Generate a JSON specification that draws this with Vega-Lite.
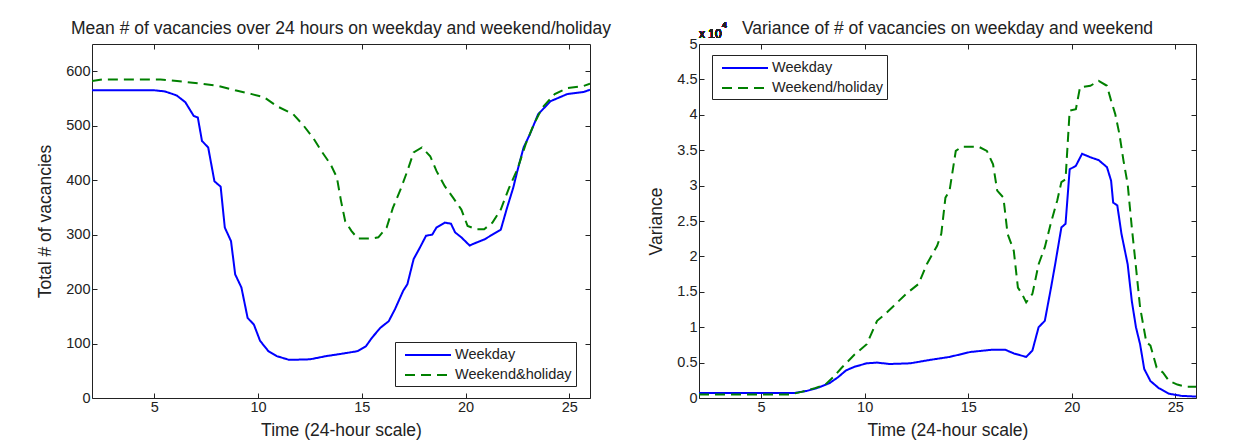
{
  "$schema": "https://vega.github.io/schema/vega-lite/v6.json",
  "background": "white",
  "padding": {"left": 36, "top": 19, "right": 5, "bottom": 2},
  "spacing": 35,
  "resolve": {"scale": {"color": "independent", "strokeDash": "independent"}, "legend": {"color": "independent", "strokeDash": "independent"}},
  "config": {
    "font": "Liberation Sans",
    "view": {"stroke": "#222", "strokeWidth": 1},
    "axis": {"grid": false, "domain": false, "tickColor": "#222", "tickSize": -5, "labelFontSize": 14.5, "labelColor": "#222", "titleFontSize": 17.5, "titleFontWeight": "normal", "titleColor": "#222", "labelPadding": 7, "titlePadding": 11},
    "axisX": {"titlePadding": 8},
    "title": {"fontSize": 17.5, "fontWeight": "normal", "color": "#222", "offset": 6, "frame": "group"},
    "legend": {"orient": "none", "title": null, "symbolType": "M-2.875,0L2.875,0", "symbolSize": 256, "symbolStrokeWidth": 2, "symbolOffset": 20, "labelFontSize": 14.5, "labelColor": "#222", "labelOffset": 18, "padding": 4, "strokeColor": "#222", "fillColor": "white", "rowPadding": 4}
  },
  "datasets": {
    "mean": [
      {"t": 2, "v": 565, "series": "Weekday"}, {"t": 3, "v": 565, "series": "Weekday"}, {"t": 4, "v": 565, "series": "Weekday"}, {"t": 5, "v": 565, "series": "Weekday"}, {"t": 5.5, "v": 563, "series": "Weekday"}, {"t": 5.9, "v": 558, "series": "Weekday"}, {"t": 6.1, "v": 555, "series": "Weekday"}, {"t": 6.5, "v": 543, "series": "Weekday"}, {"t": 6.9, "v": 518, "series": "Weekday"}, {"t": 7.1, "v": 515, "series": "Weekday"}, {"t": 7.3, "v": 472, "series": "Weekday"}, {"t": 7.6, "v": 460, "series": "Weekday"}, {"t": 7.9, "v": 398, "series": "Weekday"}, {"t": 8.2, "v": 388, "series": "Weekday"}, {"t": 8.4, "v": 313, "series": "Weekday"}, {"t": 8.7, "v": 288, "series": "Weekday"}, {"t": 8.9, "v": 227, "series": "Weekday"}, {"t": 9.2, "v": 203, "series": "Weekday"}, {"t": 9.5, "v": 147, "series": "Weekday"}, {"t": 9.8, "v": 135, "series": "Weekday"}, {"t": 10.1, "v": 105, "series": "Weekday"}, {"t": 10.5, "v": 86, "series": "Weekday"}, {"t": 10.9, "v": 77, "series": "Weekday"}, {"t": 11.5, "v": 70, "series": "Weekday"}, {"t": 12.5, "v": 71, "series": "Weekday"}, {"t": 13.3, "v": 77, "series": "Weekday"}, {"t": 14.0, "v": 81, "series": "Weekday"}, {"t": 14.8, "v": 86, "series": "Weekday"}, {"t": 15.2, "v": 95, "series": "Weekday"}, {"t": 15.5, "v": 111, "series": "Weekday"}, {"t": 15.9, "v": 129, "series": "Weekday"}, {"t": 16.3, "v": 141, "series": "Weekday"}, {"t": 16.6, "v": 163, "series": "Weekday"}, {"t": 17.0, "v": 197, "series": "Weekday"}, {"t": 17.2, "v": 209, "series": "Weekday"}, {"t": 17.5, "v": 255, "series": "Weekday"}, {"t": 17.8, "v": 276, "series": "Weekday"}, {"t": 18.1, "v": 298, "series": "Weekday"}, {"t": 18.4, "v": 300, "series": "Weekday"}, {"t": 18.6, "v": 313, "series": "Weekday"}, {"t": 19.0, "v": 322, "series": "Weekday"}, {"t": 19.3, "v": 320, "series": "Weekday"}, {"t": 19.5, "v": 304, "series": "Weekday"}, {"t": 19.8, "v": 295, "series": "Weekday"}, {"t": 20.2, "v": 280, "series": "Weekday"}, {"t": 20.5, "v": 285, "series": "Weekday"}, {"t": 20.9, "v": 291, "series": "Weekday"}, {"t": 21.3, "v": 300, "series": "Weekday"}, {"t": 21.7, "v": 309, "series": "Weekday"}, {"t": 22.0, "v": 349, "series": "Weekday"}, {"t": 22.3, "v": 386, "series": "Weekday"}, {"t": 22.5, "v": 417, "series": "Weekday"}, {"t": 22.8, "v": 460, "series": "Weekday"}, {"t": 23.1, "v": 484, "series": "Weekday"}, {"t": 23.5, "v": 521, "series": "Weekday"}, {"t": 24.1, "v": 545, "series": "Weekday"}, {"t": 24.9, "v": 558, "series": "Weekday"}, {"t": 25.7, "v": 562, "series": "Weekday"}, {"t": 26, "v": 566, "series": "Weekday"},
      {"t": 2, "v": 582, "series": "Weekend&holiday"}, {"t": 2.5, "v": 585, "series": "Weekend&holiday"}, {"t": 3, "v": 585, "series": "Weekend&holiday"}, {"t": 4, "v": 585, "series": "Weekend&holiday"}, {"t": 5.3, "v": 585, "series": "Weekend&holiday"}, {"t": 6.1, "v": 582, "series": "Weekend&holiday"}, {"t": 7.3, "v": 577, "series": "Weekend&holiday"}, {"t": 8.1, "v": 573, "series": "Weekend&holiday"}, {"t": 8.9, "v": 565, "series": "Weekend&holiday"}, {"t": 9.7, "v": 558, "series": "Weekend&holiday"}, {"t": 10.3, "v": 552, "series": "Weekend&holiday"}, {"t": 10.9, "v": 536, "series": "Weekend&holiday"}, {"t": 11.7, "v": 521, "series": "Weekend&holiday"}, {"t": 12.2, "v": 500, "series": "Weekend&holiday"}, {"t": 12.7, "v": 475, "series": "Weekend&holiday"}, {"t": 13.1, "v": 451, "series": "Weekend&holiday"}, {"t": 13.5, "v": 429, "series": "Weekend&holiday"}, {"t": 13.8, "v": 405, "series": "Weekend&holiday"}, {"t": 14.0, "v": 362, "series": "Weekend&holiday"}, {"t": 14.2, "v": 325, "series": "Weekend&holiday"}, {"t": 14.5, "v": 307, "series": "Weekend&holiday"}, {"t": 14.8, "v": 293, "series": "Weekend&holiday"}, {"t": 15.5, "v": 293, "series": "Weekend&holiday"}, {"t": 15.8, "v": 295, "series": "Weekend&holiday"}, {"t": 16.2, "v": 313, "series": "Weekend&holiday"}, {"t": 16.5, "v": 349, "series": "Weekend&holiday"}, {"t": 16.9, "v": 386, "series": "Weekend&holiday"}, {"t": 17.2, "v": 417, "series": "Weekend&holiday"}, {"t": 17.5, "v": 451, "series": "Weekend&holiday"}, {"t": 17.9, "v": 460, "series": "Weekend&holiday"}, {"t": 18.3, "v": 444, "series": "Weekend&holiday"}, {"t": 18.6, "v": 417, "series": "Weekend&holiday"}, {"t": 19.0, "v": 389, "series": "Weekend&holiday"}, {"t": 19.4, "v": 368, "series": "Weekend&holiday"}, {"t": 19.8, "v": 346, "series": "Weekend&holiday"}, {"t": 20.1, "v": 316, "series": "Weekend&holiday"}, {"t": 20.5, "v": 310, "series": "Weekend&holiday"}, {"t": 20.9, "v": 310, "series": "Weekend&holiday"}, {"t": 21.3, "v": 322, "series": "Weekend&holiday"}, {"t": 21.7, "v": 346, "series": "Weekend&holiday"}, {"t": 22.1, "v": 386, "series": "Weekend&holiday"}, {"t": 22.5, "v": 420, "series": "Weekend&holiday"}, {"t": 22.9, "v": 466, "series": "Weekend&holiday"}, {"t": 23.3, "v": 503, "series": "Weekend&holiday"}, {"t": 23.7, "v": 533, "series": "Weekend&holiday"}, {"t": 24.3, "v": 558, "series": "Weekend&holiday"}, {"t": 24.9, "v": 569, "series": "Weekend&holiday"}, {"t": 25.7, "v": 573, "series": "Weekend&holiday"}, {"t": 26, "v": 577, "series": "Weekend&holiday"}
    ],
    "variance": [
      {"t": 2, "v": 700, "series": "Weekday"}, {"t": 4, "v": 700, "series": "Weekday"}, {"t": 6.6, "v": 700, "series": "Weekday"}, {"t": 7.2, "v": 1000, "series": "Weekday"}, {"t": 7.7, "v": 1400, "series": "Weekday"}, {"t": 8.3, "v": 2100, "series": "Weekday"}, {"t": 8.7, "v": 2900, "series": "Weekday"}, {"t": 9.1, "v": 3900, "series": "Weekday"}, {"t": 9.5, "v": 4400, "series": "Weekday"}, {"t": 10.1, "v": 4900, "series": "Weekday"}, {"t": 10.6, "v": 5000, "series": "Weekday"}, {"t": 11.2, "v": 4800, "series": "Weekday"}, {"t": 12.2, "v": 4900, "series": "Weekday"}, {"t": 13.2, "v": 5400, "series": "Weekday"}, {"t": 14.1, "v": 5800, "series": "Weekday"}, {"t": 15.1, "v": 6500, "series": "Weekday"}, {"t": 16.1, "v": 6800, "series": "Weekday"}, {"t": 16.8, "v": 6800, "series": "Weekday"}, {"t": 17.2, "v": 6300, "series": "Weekday"}, {"t": 17.8, "v": 5800, "series": "Weekday"}, {"t": 18.1, "v": 6700, "series": "Weekday"}, {"t": 18.4, "v": 10000, "series": "Weekday"}, {"t": 18.7, "v": 10900, "series": "Weekday"}, {"t": 19.0, "v": 15600, "series": "Weekday"}, {"t": 19.2, "v": 18900, "series": "Weekday"}, {"t": 19.5, "v": 24100, "series": "Weekday"}, {"t": 19.7, "v": 24600, "series": "Weekday"}, {"t": 19.9, "v": 32300, "series": "Weekday"}, {"t": 20.2, "v": 32800, "series": "Weekday"}, {"t": 20.5, "v": 34500, "series": "Weekday"}, {"t": 20.9, "v": 34000, "series": "Weekday"}, {"t": 21.3, "v": 33600, "series": "Weekday"}, {"t": 21.7, "v": 32600, "series": "Weekday"}, {"t": 21.9, "v": 30700, "series": "Weekday"}, {"t": 22.0, "v": 27600, "series": "Weekday"}, {"t": 22.2, "v": 27200, "series": "Weekday"}, {"t": 22.4, "v": 23200, "series": "Weekday"}, {"t": 22.7, "v": 18900, "series": "Weekday"}, {"t": 22.9, "v": 13700, "series": "Weekday"}, {"t": 23.1, "v": 10000, "series": "Weekday"}, {"t": 23.3, "v": 7600, "series": "Weekday"}, {"t": 23.5, "v": 4100, "series": "Weekday"}, {"t": 23.8, "v": 2400, "series": "Weekday"}, {"t": 24.2, "v": 1400, "series": "Weekday"}, {"t": 24.7, "v": 600, "series": "Weekday"}, {"t": 25.3, "v": 300, "series": "Weekday"}, {"t": 26, "v": 200, "series": "Weekday"},
      {"t": 2, "v": 500, "series": "Weekend/holiday"}, {"t": 4, "v": 500, "series": "Weekend/holiday"}, {"t": 6.4, "v": 500, "series": "Weekend/holiday"}, {"t": 7.0, "v": 900, "series": "Weekend/holiday"}, {"t": 7.6, "v": 1400, "series": "Weekend/holiday"}, {"t": 8.1, "v": 1900, "series": "Weekend/holiday"}, {"t": 8.5, "v": 3000, "series": "Weekend/holiday"}, {"t": 8.9, "v": 4300, "series": "Weekend/holiday"}, {"t": 9.5, "v": 6100, "series": "Weekend/holiday"}, {"t": 10.1, "v": 7600, "series": "Weekend/holiday"}, {"t": 10.6, "v": 10900, "series": "Weekend/holiday"}, {"t": 11.0, "v": 11900, "series": "Weekend/holiday"}, {"t": 11.4, "v": 13000, "series": "Weekend/holiday"}, {"t": 12.0, "v": 14700, "series": "Weekend/holiday"}, {"t": 12.6, "v": 16100, "series": "Weekend/holiday"}, {"t": 13.0, "v": 18900, "series": "Weekend/holiday"}, {"t": 13.5, "v": 21500, "series": "Weekend/holiday"}, {"t": 13.7, "v": 23200, "series": "Weekend/holiday"}, {"t": 13.9, "v": 28300, "series": "Weekend/holiday"}, {"t": 14.1, "v": 29300, "series": "Weekend/holiday"}, {"t": 14.4, "v": 34900, "series": "Weekend/holiday"}, {"t": 14.7, "v": 35500, "series": "Weekend/holiday"}, {"t": 15.5, "v": 35500, "series": "Weekend/holiday"}, {"t": 15.9, "v": 34900, "series": "Weekend/holiday"}, {"t": 16.2, "v": 33000, "series": "Weekend/holiday"}, {"t": 16.4, "v": 29300, "series": "Weekend/holiday"}, {"t": 16.7, "v": 28300, "series": "Weekend/holiday"}, {"t": 16.9, "v": 23200, "series": "Weekend/holiday"}, {"t": 17.2, "v": 20800, "series": "Weekend/holiday"}, {"t": 17.4, "v": 15600, "series": "Weekend/holiday"}, {"t": 17.6, "v": 14700, "series": "Weekend/holiday"}, {"t": 17.8, "v": 13500, "series": "Weekend/holiday"}, {"t": 18.1, "v": 14700, "series": "Weekend/holiday"}, {"t": 18.4, "v": 18900, "series": "Weekend/holiday"}, {"t": 18.7, "v": 21300, "series": "Weekend/holiday"}, {"t": 19.0, "v": 24800, "series": "Weekend/holiday"}, {"t": 19.3, "v": 27900, "series": "Weekend/holiday"}, {"t": 19.5, "v": 30500, "series": "Weekend/holiday"}, {"t": 19.7, "v": 30900, "series": "Weekend/holiday"}, {"t": 19.9, "v": 40600, "series": "Weekend/holiday"}, {"t": 20.2, "v": 40800, "series": "Weekend/holiday"}, {"t": 20.4, "v": 43900, "series": "Weekend/holiday"}, {"t": 20.9, "v": 44100, "series": "Weekend/holiday"}, {"t": 21.3, "v": 44800, "series": "Weekend/holiday"}, {"t": 21.7, "v": 44100, "series": "Weekend/holiday"}, {"t": 21.9, "v": 42000, "series": "Weekend/holiday"}, {"t": 22.1, "v": 40100, "series": "Weekend/holiday"}, {"t": 22.3, "v": 37300, "series": "Weekend/holiday"}, {"t": 22.5, "v": 33500, "series": "Weekend/holiday"}, {"t": 22.7, "v": 30200, "series": "Weekend/holiday"}, {"t": 22.9, "v": 24100, "series": "Weekend/holiday"}, {"t": 23.1, "v": 18500, "series": "Weekend/holiday"}, {"t": 23.3, "v": 12800, "series": "Weekend/holiday"}, {"t": 23.6, "v": 7900, "series": "Weekend/holiday"}, {"t": 23.8, "v": 7400, "series": "Weekend/holiday"}, {"t": 24.1, "v": 4300, "series": "Weekend/holiday"}, {"t": 24.4, "v": 3600, "series": "Weekend/holiday"}, {"t": 24.7, "v": 2400, "series": "Weekend/holiday"}, {"t": 25.1, "v": 1900, "series": "Weekend/holiday"}, {"t": 25.5, "v": 1600, "series": "Weekend/holiday"}, {"t": 26, "v": 1600, "series": "Weekend/holiday"}
    ]
  },
  "hconcat": [
    {
      "width": 498,
      "height": 354,
      "title": "Mean # of vacancies over 24 hours on weekday and weekend/holiday",
      "data": {"name": "mean"},
      "layer": [
        {
          "mark": {"type": "line", "strokeWidth": 2, "clip": true},
          "encoding": {
            "x": {"field": "t", "type": "quantitative", "scale": {"domain": [2, 26], "nice": false, "zero": false}, "axis": {"values": [5, 10, 15, 20, 25], "title": "Time (24-hour scale)"}},
            "y": {"field": "v", "type": "quantitative", "scale": {"domain": [0, 650], "nice": false}, "axis": {"values": [0, 100, 200, 300, 400, 500, 600], "title": "Total # of vacancies"}},
            "color": {"field": "series", "type": "nominal", "scale": {"domain": ["Weekday", "Weekend&holiday"], "range": ["#0000ff", "#008000"]}, "legend": {"legendX": 303, "legendY": 298}},
            "strokeDash": {"field": "series", "type": "nominal", "scale": {"domain": ["Weekday", "Weekend&holiday"], "range": [[1, 0], [10, 6]]}, "legend": {"legendX": 303, "legendY": 298}}
          }
        },
        {
          "mark": {"type": "line", "opacity": 0},
          "encoding": {
            "x": {"field": "t", "type": "quantitative", "axis": {"orient": "top", "values": [5, 10, 15, 20, 25], "labels": false, "title": null}},
            "y": {"field": "v", "type": "quantitative", "axis": {"orient": "right", "values": [0, 100, 200, 300, 400, 500, 600], "labels": false, "title": null}}
          }
        }
      ],
      "resolve": {"axis": {"x": "independent", "y": "independent"}}
    },
    {
      "width": 497,
      "height": 354,
      "title": {"text": "Variance of # of vacancies on weekday and weekend", "offset": -16},
      "data": {"name": "variance"},
      "layer": [
        {
          "mark": {"type": "line", "strokeWidth": 2, "clip": true},
          "encoding": {
            "x": {"field": "t", "type": "quantitative", "scale": {"domain": [2, 26], "nice": false, "zero": false}, "axis": {"values": [5, 10, 15, 20, 25], "title": "Time (24-hour scale)"}},
            "y": {"field": "v", "type": "quantitative", "scale": {"domain": [0, 50000], "nice": false}, "axis": {"values": [0, 5000, 10000, 15000, 20000, 25000, 30000, 35000, 40000, 45000, 50000], "labelExpr": "datum.value / 10000", "title": "Variance"}},
            "color": {"field": "series", "type": "nominal", "scale": {"domain": ["Weekday", "Weekend/holiday"], "range": ["#0000ff", "#008000"]}, "legend": {"legendX": 13, "legendY": 11}},
            "strokeDash": {"field": "series", "type": "nominal", "scale": {"domain": ["Weekday", "Weekend/holiday"], "range": [[1, 0], [10, 6]]}, "legend": {"legendX": 13, "legendY": 11}}
          }
        },
        {
          "mark": {"type": "line", "opacity": 0},
          "encoding": {
            "x": {"field": "t", "type": "quantitative", "axis": {"orient": "top", "values": [5, 10, 15, 20, 25], "labels": false, "title": null}},
            "y": {"field": "v", "type": "quantitative", "axis": {"orient": "right", "values": [0, 5000, 10000, 15000, 20000, 25000, 30000, 35000, 40000, 45000, 50000], "labels": false, "title": null}}
          }
        },
        {
          "mark": {"type": "text", "align": "left", "baseline": "alphabetic", "dy": -6, "fontSize": 12, "font": "Liberation Sans", "fontWeight": "normal", "color": "#222"},
          "encoding": {
            "x": {"datum": 2, "type": "quantitative", "axis": null},
            "y": {"datum": 50000, "type": "quantitative", "axis": null},
            "text": {"value": "x 10"}
          }
        },
        {
          "mark": {"type": "text", "align": "left", "baseline": "alphabetic", "dx": 23, "dy": -16, "fontSize": 9, "font": "Liberation Sans", "fontWeight": "normal", "color": "#222"},
          "encoding": {
            "x": {"datum": 2, "type": "quantitative", "axis": null},
            "y": {"datum": 50000, "type": "quantitative", "axis": null},
            "text": {"value": "4"}
          }
        }
      ],
      "resolve": {"axis": {"x": "independent", "y": "independent"}}
    }
  ]
}
